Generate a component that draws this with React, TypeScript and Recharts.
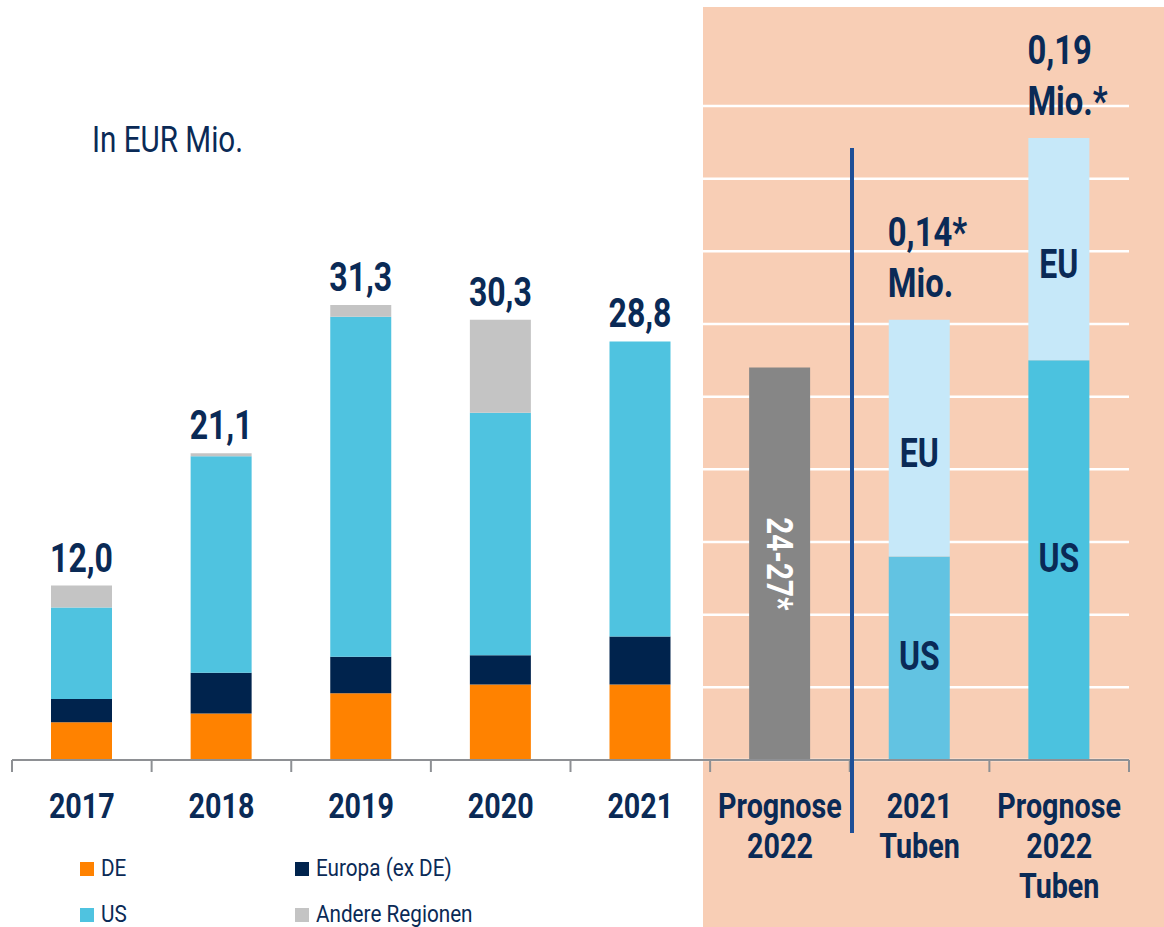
import React from 'react';
import { BarChart, Bar, XAxis, YAxis, CartesianGrid, LabelList, Legend, Cell } from 'recharts';

const categories = ['2017', '2018', '2019', '2020', '2021', 'Prognose\n2022', '2021\nTuben', 'Prognose\n2022\nTuben'];
const deValues = [2.6, 3.2, 4.6, 5.2, 5.2, null, null, null];
const europaValues = [1.6, 2.8, 2.5, 2.0, 3.3, null, null, null];
const usValues = [6.3, 14.9, 23.4, 16.7, 20.3, null, null, null];
const andereValues = [1.5, 0.2, 0.8, 6.4, 0, null, null, null];
const totalLabels = ['12,0', '21,1', '31,3', '30,3', '28,8', null, null, null];
const prognoseValues = [null, null, null, null, null, 27.0, null, null];
const prognoseLabels = [null, null, null, null, null, '24-27*', null, null];
const tubenUsValues = [null, null, null, null, null, null, 14.0, 27.5];
const tubenEuValues = [null, null, null, null, null, null, 16.3, 15.3];
const tubenUsLabels = [null, null, null, null, null, null, 'US', 'US'];
const tubenEuLabels = [null, null, null, null, null, null, 'EU', 'EU'];
const tubenTopLabels = [null, null, null, null, null, null, '0,14*\nMio.', '0,19\nMio.*'];
const yTicks = [0, 5, 10, 15, 20, 25, 30, 35, 40, 45];
const legendNames = ['DE', 'Europa (ex DE)', 'US', 'Andere Regionen'];

const data = categories.map((category, i) => ({
  category,
  de: deValues[i],
  europa: europaValues[i],
  us: usValues[i],
  andere: andereValues[i],
  // the total label sits on the topmost non-empty segment
  totalOnAndere: andereValues[i] ? totalLabels[i] : null,
  totalOnUs: andereValues[i] ? null : totalLabels[i],
  prognose: prognoseValues[i],
  prognoseLabel: prognoseLabels[i],
  tubenUs: tubenUsValues[i],
  tubenEu: tubenEuValues[i],
  tubenUsLabel: tubenUsLabels[i],
  tubenEuLabel: tubenEuLabels[i],
  tubenTop: tubenTopLabels[i],
}));

const FONT = "Roboto, 'Open Sans', sans-serif";
const NAVY = '#0A2A56';
const C_DE = '#FF8200';
const C_EUROPA = '#00234D';
const C_US = '#4FC3E0';
const C_ANDERE = '#C4C4C4';
const C_PROGNOSE = '#868686';
const C_TUBEN_US = ['#62C3E2', '#4BC2DF'];
const C_EU = '#C6E8F9';
const C_AXIS = '#8E9094';
const C_PEACH = '#F8CEB5';
const C_BLUE = '#1E4F97';

function geom(props: any) {
  const vb = props.viewBox || {};
  const x = props.x ?? vb.x ?? 0;
  const y = props.y ?? vb.y ?? 0;
  const width = props.width ?? vb.width ?? 0;
  const height = props.height ?? vb.height ?? 0;
  return { x: Number(x), y: Number(y), width: Number(width), height: Number(height) };
}

type CTextProps = {
  x: number;
  y: number;
  lines: string[];
  lineGap?: number;
  anchor?: 'start' | 'middle' | 'end';
  size: number;
  weight?: number;
  fill?: string;
  scale?: number;
  rotate?: number;
};

const CText = ({ x, y, lines, lineGap = 0, anchor = 'middle', size, weight = 700, fill = NAVY, scale = 0.8, rotate }: CTextProps) => (
  <g transform={`translate(${x},${y})${rotate ? ` rotate(${rotate})` : ''} scale(${scale},1)`}>
    <text x={0} y={0} textAnchor={anchor} fontSize={size} fontWeight={weight} fill={fill} fontFamily={FONT}>
      {lines.map((l, i) => (
        <tspan key={i} x={0} y={i * lineGap}>
          {l}
        </tspan>
      ))}
    </text>
  </g>
);

const CategoryTick = (props: any) => {
  const { x, y, payload, index, visibleTicksCount, width } = props;
  const half = payload && payload.offset != null ? payload.offset : width / (2 * (visibleTicksCount || categories.length));
  const lines = String(payload.value).split('\n');
  const isLast = index === (visibleTicksCount || categories.length) - 1;
  return (
    <g>
      <line x1={x - half} x2={x - half} y1={y} y2={y + 12} stroke={C_AXIS} strokeWidth={2} />
      {isLast && <line x1={x + half} x2={x + half} y1={y} y2={y + 12} stroke={C_AXIS} strokeWidth={2} />}
      <CText x={x} y={y + 58} lines={lines} lineGap={40} size={35} scale={0.82} />
    </g>
  );
};

const TotalLabel = (props: any) => {
  const { value } = props;
  if (value == null || value === '') return null;
  const g = geom(props);
  return <CText x={g.x + g.width / 2} y={g.y - 14} lines={[String(value)]} size={40} scale={0.8} />;
};

const PrognoseLabel = (props: any) => {
  const { value } = props;
  if (value == null || value === '') return null;
  const g = geom(props);
  const cx = g.x + g.width / 2;
  const cy = g.y + g.height / 2;
  // rotated 90deg: baseline offset goes to the left of center
  return <CText x={cx - 13} y={cy} rotate={90} lines={[String(value)]} size={37} fill="#FFFFFF" scale={0.8} />;
};

const SegmentLabel = (shift: number[]) => (props: any) => {
  const { value, index } = props;
  if (value == null || value === '') return null;
  const g = geom(props);
  const dy = index === 7 ? shift[1] : shift[0];
  return <CText x={g.x + g.width / 2} y={g.y + g.height / 2 + dy + 15} lines={[String(value)]} size={41} scale={0.78} />;
};

const TopLabel = (props: any) => {
  const { value } = props;
  if (value == null || value === '') return null;
  const g = geom(props);
  const lines = String(value).split('\n');
  const n = lines.length;
  return <CText x={g.x - 1} y={g.y - 23 - (n - 1) * 51} lines={lines} lineGap={51} anchor="start" size={41} scale={0.8} />;
};

const renderLegend = (props: any) => {
  const payload = (props.payload || []).filter((p: any) => legendNames.includes(p.value));
  payload.sort((a: any, b: any) => legendNames.indexOf(a.value) - legendNames.indexOf(b.value));
  return (
    <div style={{ display: 'grid', gridTemplateColumns: '215px 215px', paddingLeft: 80, fontFamily: FONT }}>
      {payload.map((it: any) => (
        <div key={it.value} style={{ display: 'flex', alignItems: 'center', height: 46 }}>
          <span style={{ display: 'inline-block', width: 14, height: 14, background: it.color, marginRight: 7, flex: 'none' }} />
          <span style={{ fontSize: 23, color: NAVY, lineHeight: '46px', display: 'inline-block', transform: 'scaleX(0.9)', transformOrigin: 'left center', whiteSpace: 'nowrap' }}>
            {it.value}
          </span>
        </div>
      ))}
    </div>
  );
};

export default function App() {
  return (
    <div style={{ position: 'absolute', left: 0, top: 0, width: 1164, height: 927, background: '#FFFFFF', overflow: 'hidden' }}>
      <div style={{ position: 'absolute', left: 703, top: 7, width: 461, height: 920, background: C_PEACH }} />
      <div style={{ position: 'absolute', left: 0, top: 0 }}>
        <BarChart
          width={1164}
          height={927}
          data={data}
          margin={{ top: 106, right: 35, bottom: 27, left: 12 }}
          barSize={61}
        >
          <CartesianGrid vertical={false} stroke="#FFFFFF" strokeWidth={2.5} />
          <YAxis hide domain={[0, 45]} ticks={yTicks} />
          <XAxis
            dataKey="category"
            height={140}
            interval={0}
            axisLine={{ stroke: C_AXIS, strokeWidth: 2 }}
            tickLine={false}
            tickSize={0}
            tickMargin={0}
            tick={<CategoryTick />}
          />
          <Bar dataKey="de" name="DE" stackId="a" fill={C_DE} isAnimationActive={false} />
          <Bar dataKey="europa" name="Europa (ex DE)" stackId="a" fill={C_EUROPA} isAnimationActive={false} />
          <Bar dataKey="us" name="US" stackId="a" fill={C_US} isAnimationActive={false}>
            <LabelList dataKey="totalOnUs" content={TotalLabel} />
          </Bar>
          <Bar dataKey="andere" name="Andere Regionen" stackId="a" fill={C_ANDERE} isAnimationActive={false}>
            <LabelList dataKey="totalOnAndere" content={TotalLabel} />
          </Bar>
          <Bar dataKey="prognose" name="Prognose" stackId="a" fill={C_PROGNOSE} legendType="none" isAnimationActive={false}>
            <LabelList dataKey="prognoseLabel" content={PrognoseLabel} />
          </Bar>
          <Bar dataKey="tubenUs" name="Tuben US" stackId="a" fill={C_TUBEN_US[0]} legendType="none" isAnimationActive={false}>
            {data.map((d, i) => (
              <Cell key={i} fill={i === 7 ? C_TUBEN_US[1] : C_TUBEN_US[0]} />
            ))}
            <LabelList dataKey="tubenUsLabel" content={SegmentLabel([-3, -7])} />
          </Bar>
          <Bar dataKey="tubenEu" name="Tuben EU" stackId="a" fill={C_EU} legendType="none" isAnimationActive={false}>
            <LabelList dataKey="tubenEuLabel" content={SegmentLabel([14, 38])} />
            <LabelList dataKey="tubenTop" content={TopLabel} />
          </Bar>
          <Legend
            layout="horizontal"
            verticalAlign="middle"
            align="center"
            wrapperStyle={{ top: 846, left: 0, width: 600, height: 92 }}
            content={renderLegend}
          />
        </BarChart>
      </div>
      <svg width={1164} height={927} style={{ position: 'absolute', left: 0, top: 0, pointerEvents: 'none' }}>
        <rect x={850} y={148} width={4} height={685} fill={C_BLUE} />
        <CText x={92} y={152} lines={['In EUR Mio.']} anchor="start" size={37} weight={400} scale={0.8} />
      </svg>
    </div>
  );
}
